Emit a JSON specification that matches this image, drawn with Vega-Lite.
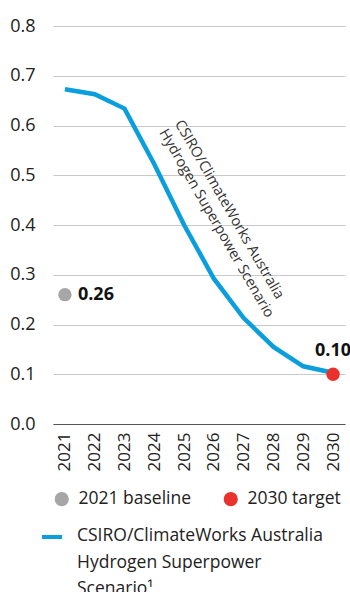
{
  "$schema": "https://vega.github.io/schema/vega-lite/v6.json",
  "width": 292,
  "height": 398,
  "autosize": {"type": "none"},
  "padding": {"left": 53, "top": 26, "right": 5, "bottom": 168},
  "config": {
    "font": "Open Sans",
    "view": {"stroke": null},
    "axis": {"labelColor": "#222", "labelFont": "Open Sans"},
    "legend": {"labelFont": "Open Sans", "labelColor": "#222"}
  },
  "datasets": {
    "trajectory": [
      {"year": 2021, "value": 0.673},
      {"year": 2022, "value": 0.663},
      {"year": 2023, "value": 0.634},
      {"year": 2024, "value": 0.522},
      {"year": 2025, "value": 0.4},
      {"year": 2026, "value": 0.292},
      {"year": 2027, "value": 0.213},
      {"year": 2028, "value": 0.155},
      {"year": 2029, "value": 0.116},
      {"year": 2030, "value": 0.103}
    ],
    "markers": [
      {"year": 2021, "value": 0.26, "series": "2021 baseline", "label": "0.26"},
      {"year": 2030, "value": 0.1, "series": "2030 target", "label": "0.10"}
    ],
    "note": [
      {"year": 2025, "value": 0.615, "text": "CSIRO/ClimateWorks Australia|Hydrogen Superpower Scenario"}
    ]
  },
  "layer": [
    {
      "data": {"name": "trajectory"},
      "mark": {"type": "line", "strokeWidth": 4.5},
      "encoding": {
        "x": {
          "field": "year", "type": "ordinal",
          "scale": {"type": "point", "padding": 0.4},
          "axis": {"title": null, "labelAngle": -90, "labelFontSize": 17, "ticks": false, "domainColor": "#555", "domainWidth": 1, "labelPadding": 8, "grid": false}
        },
        "y": {
          "field": "value", "type": "quantitative",
          "scale": {"domain": [0, 0.8], "nice": false},
          "axis": {"title": null, "values": [0, 0.1, 0.2, 0.3, 0.4, 0.5, 0.6, 0.7, 0.8], "format": ".1f", "labelFontSize": 18, "ticks": false, "domain": false, "gridColor": "#c9c9c9", "labelPadding": 18}
        },
        "stroke": {
          "datum": "CSIRO/ClimateWorks Australia Hydrogen Superpower Scenario¹",
          "scale": {"range": ["#0a9fdc"]},
          "legend": {
            "orient": "none", "legendX": -13, "legendY": 499, "title": null,
            "symbolType": "stroke", "symbolSize": 400, "symbolStrokeWidth": 4,
            "labelFontSize": 17.5, "labelOffset": 13, "labelLimit": 400,
            "labelExpr": "['CSIRO/ClimateWorks Australia', 'Hydrogen Superpower', 'Scenario¹']",
            "labelBaseline": "top",
            "encode": {"labels": {"update": {"lineHeight": {"value": 26.5}, "dy": {"value": -10}}}}
          }
        }
      }
    },
    {
      "data": {"name": "markers"},
      "mark": {"type": "circle", "size": 180, "opacity": 1},
      "encoding": {
        "x": {"field": "year", "type": "ordinal"},
        "y": {"field": "value", "type": "quantitative"},
        "fill": {
          "field": "series", "type": "nominal",
          "scale": {"domain": ["2021 baseline", "2030 target"], "range": ["#a6a6a6", "#e8322b"]},
          "legend": {
            "orient": "none", "legendX": 0, "legendY": 464, "direction": "horizontal", "title": null,
            "symbolType": "circle", "symbolSize": 200, "symbolStrokeWidth": 0,
            "labelFontSize": 17.5, "labelOffset": 8, "columnPadding": 30
          }
        }
      }
    },
    {
      "data": {"name": "markers"},
      "transform": [{"filter": "datum.series === '2021 baseline'"}],
      "mark": {"type": "text", "align": "left", "baseline": "middle", "dx": 13, "fontSize": 18, "fontWeight": "bold", "color": "#111"},
      "encoding": {
        "x": {"field": "year", "type": "ordinal"},
        "y": {"field": "value", "type": "quantitative"},
        "text": {"field": "label"}
      }
    },
    {
      "data": {"name": "markers"},
      "transform": [{"filter": "datum.series === '2030 target'"}],
      "mark": {"type": "text", "align": "center", "baseline": "middle", "dy": -23, "fontSize": 18, "fontWeight": "bold", "color": "#111"},
      "encoding": {
        "x": {"field": "year", "type": "ordinal"},
        "y": {"field": "value", "type": "quantitative"},
        "text": {"field": "label"}
      }
    },
    {
      "data": {"name": "note"},
      "mark": {"type": "text", "align": "left", "baseline": "top", "angle": 60, "fontSize": 14.5, "lineHeight": 18, "lineBreak": "|", "color": "#333"},
      "encoding": {
        "x": {"field": "year", "type": "ordinal"},
        "y": {"field": "value", "type": "quantitative"},
        "text": {"field": "text"}
      }
    }
  ]
}
